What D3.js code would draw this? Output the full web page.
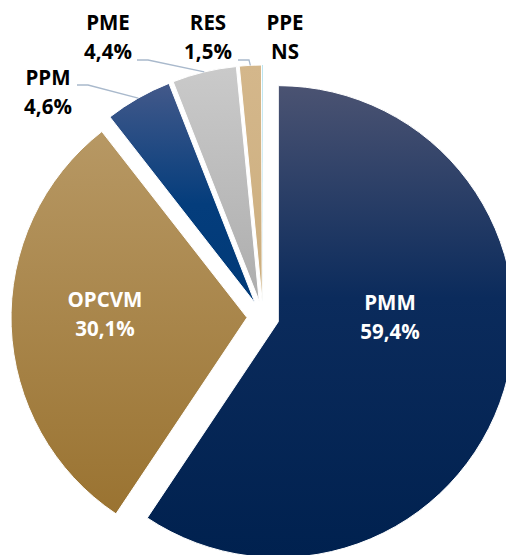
<!DOCTYPE html>
<html lang="fr">
<head>
<meta charset="UTF-8"/>
<title>Répartition</title>
<script src="https://cdnjs.cloudflare.com/ajax/libs/d3/7.8.5/d3.min.js"></script>
<style>
    body { margin: 0; background: #fff; }
    text { font-family: "Open Sans", sans-serif; font-weight: 700; font-size: 20.5px; }
</style>
</head>
<body>
<div id="chart"></div>
<script>
    // data
    const categories = ["PMM", "OPCVM", "PPM", "PME", "RES", "PPE"];
    const values = [59.4, 30.1, 4.6, 4.4, 1.5, 0.05];
    const valueLabels = ["59,4%", "30,1%", "4,6%", "4,4%", "1,5%", "NS"];

    // gradients per slice (top -> bottom)
    const fills = [
        [["0%", "#4b5372"], ["45%", "#0b2b5c"], ["100%", "#00214f"]],
        [["0%", "#b79864"], ["100%", "#9a7331"]],
        [["0%", "#43598a"], ["55%", "#043d7c"], ["100%", "#003a78"]],
        [["0%", "#cacaca"], ["100%", "#adadad"]],
        [["0%", "#d4b78b"], ["100%", "#ccae7e"]],
        [["0%", "#a6dcea"], ["100%", "#a6dcea"]]
    ];

    // label layout: centre x, first baseline, leader start (null = none), text colour
    const labelPos = [
        {x: 390, y: 310, lead: null, color: "#fff"},
        {x: 105, y: 307, lead: null, color: "#fff"},
        {x: 48, y: 85, lead: [77, 85], color: "#000"},
        {x: 108, y: 30, lead: [137, 60], color: "#000"},
        {x: 208, y: 30, lead: [238, 60], color: "#000"},
        {x: 285, y: 30, lead: null, color: "#000"}
    ];

    const W = 506, H = 555;
    const cx = 263, cy = 317, radius = 236, explode = 16, lineH = 28.5;

    const svg = d3.select("#chart").append("svg")
        .attr("width", W).attr("height", H);

    const defs = svg.append("defs");
    fills.forEach(function(stops, i) {
        const g = defs.append("linearGradient")
            .attr("id", "grad" + i)
            .attr("x1", 0).attr("y1", 0).attr("x2", 0).attr("y2", 1);
        stops.forEach(function(s) {
            g.append("stop").attr("offset", s[0]).attr("stop-color", s[1]);
        });
    });

    const pie = d3.pie().sort(null).value(function(d) { return d; });
    const arc = d3.arc().innerRadius(0).outerRadius(radius);
    const arcs = pie(values);

    function offset(a, dist) {
        const mid = (a.startAngle + a.endAngle) / 2;
        return [dist * Math.sin(mid), -dist * Math.cos(mid)];
    }

    const g = svg.append("g").attr("transform", "translate(" + cx + "," + cy + ")");

    g.selectAll("path.slice")
        .data(arcs)
        .enter().append("path")
        .attr("class", "slice")
        .attr("transform", function(d) {
            const o = offset(d, explode);
            return "translate(" + o[0] + "," + o[1] + ")";
        })
        .attr("d", arc)
        .attr("fill", function(d, i) { return "url(#grad" + i + ")"; })
        .attr("stroke", "#fff")
        .attr("stroke-width", function(d, i) { return i === 5 ? 0 : 1; });

    // leader lines
    arcs.forEach(function(d, i) {
        const p = labelPos[i];
        if (!p.lead) return;
        const o = offset(d, explode);
        const e = offset(d, radius);
        const ex = cx + o[0] + e[0], ey = cy + o[1] + e[1];
        svg.append("polyline")
            .attr("points", [p.lead, [p.lead[0] + 11, p.lead[1]], [ex, ey]].map(function(q) { return q.join(","); }).join(" "))
            .attr("fill", "none")
            .attr("stroke", "#a9b9cc")
            .attr("stroke-width", 1.3);
    });

    // labels
    categories.forEach(function(c, i) {
        const p = labelPos[i];
        const t = svg.append("text")
            .attr("text-anchor", "middle")
            .attr("fill", p.color);
        t.append("tspan").attr("x", p.x).attr("y", p.y).text(c);
        t.append("tspan").attr("x", p.x).attr("y", p.y + lineH).text(valueLabels[i]);
    });
</script>
</body>
</html>
